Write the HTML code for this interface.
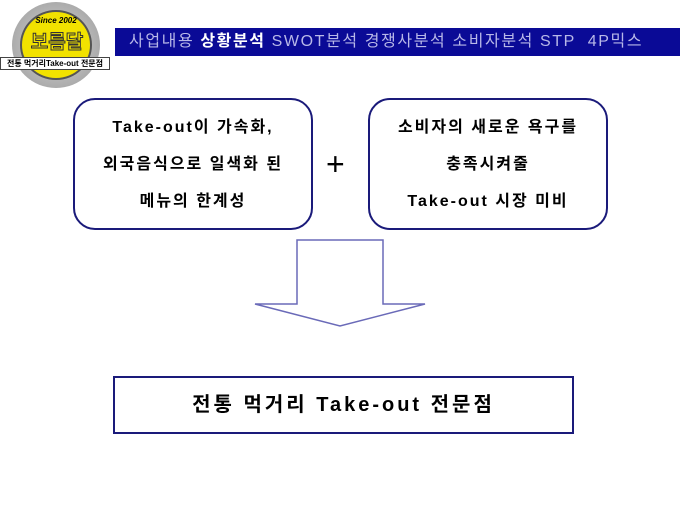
<!DOCTYPE html>
<html><head><meta charset="utf-8"><style>
body{margin:0;width:680px;height:510px;background:#fff;position:relative;overflow:hidden;font-family:"Liberation Sans","Noto Sans CJK KR",sans-serif}
.a{position:absolute}
.box{position:absolute;border:2px solid #1a1a7a;border-radius:22px;box-sizing:border-box;display:flex;flex-direction:column;justify-content:center;align-items:center;font-size:16px;font-weight:bold;letter-spacing:2px;line-height:37px;color:#000;white-space:nowrap}
</style></head><body>
<div class="a" style="left:115px;top:28px;width:565px;height:28px;background:#0a0a96;color:#b8b8e8;font-size:16px;line-height:28px;white-space:nowrap;padding-left:14px;box-sizing:border-box;letter-spacing:1.6px">사업내용 <b style="color:#fff">상황분석</b> SWOT분석 경쟁사분석 소비자분석 STP &nbsp;4P믹스</div>
<div class="a" style="left:12px;top:2px;width:88px;height:86px;border-radius:50%;background:radial-gradient(#d8d8d8,#999);"></div>
<div class="a" style="left:20px;top:10px;width:72px;height:70px;border-radius:50%;background:#f2e200;border:2px solid #555;box-sizing:border-box"></div>
<div class="a" style="left:30px;top:16px;width:52px;text-align:center;font-size:8px;font-style:italic;font-weight:bold">Since 2002</div>
<div class="a" style="left:22px;top:27px;width:70px;text-align:center;font-size:19px;font-weight:bold;color:#f2e200;-webkit-text-stroke:1px #333">보름달</div>
<div class="a" style="left:0;top:57px;width:110px;height:13px;background:#fff;border:1px solid #444;box-sizing:border-box;font-size:8px;line-height:11px;text-align:center;font-weight:bold;white-space:nowrap">전통 먹거리Take-out 전문점</div>
<div class="box" style="left:73px;top:98px;width:240px;height:132px"><div>Take-out이 가속화,</div><div>외국음식으로 일색화 된</div><div>메뉴의 한계성</div></div>
<div class="a" style="left:326px;top:148px;font-size:32px;line-height:32px;font-weight:300">+</div>
<div class="box" style="left:368px;top:98px;width:240px;height:132px"><div>소비자의 새로운 욕구를</div><div>충족시켜줄</div><div>Take-out 시장 미비</div></div>
<svg class="a" style="left:0;top:0" width="680" height="510"><polygon points="297,240 383,240 383,304 425,304 340,326 255,304 297,304" fill="#fff" stroke="#6a6ab8" stroke-width="1.5"/></svg>
<div class="a" style="left:113px;top:376px;width:461px;height:58px;border:2px solid #1a1a7a;box-sizing:border-box;text-align:center;line-height:54px;font-size:20px;font-weight:bold;letter-spacing:3px;white-space:nowrap">전통 먹거리 Take-out 전문점</div>
</body></html>
